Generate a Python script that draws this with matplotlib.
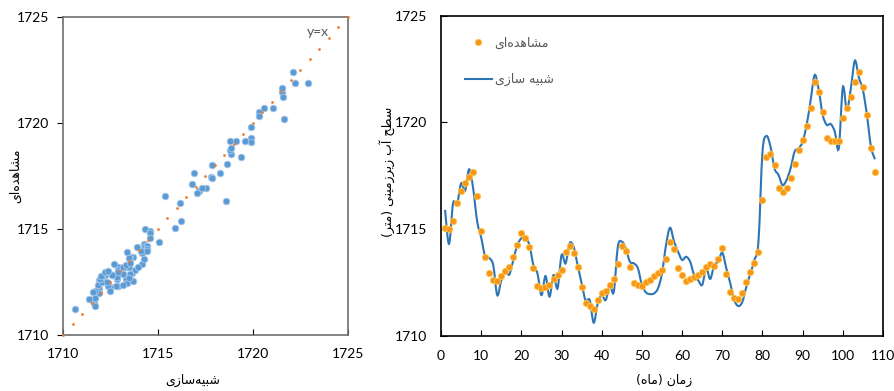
import matplotlib
matplotlib.use('Agg')
import matplotlib.pyplot as plt
from matplotlib.path import Path
from matplotlib.patches import PathPatch
from matplotlib.lines import Line2D

# monthly values (months 1..108)
months = list(range(1, 109))
observed = [1715.03, 1714.98, 1715.38, 1716.23, 1716.78, 1717.14, 1717.44, 1717.66, 1716.55, 1714.91,
            1713.69, 1712.92, 1712.63, 1712.58, 1712.81, 1713.03, 1713.22, 1713.67, 1714.27, 1714.80,
            1714.56, 1714.14, 1713.19, 1712.33, 1712.22, 1712.30, 1712.38, 1712.64, 1712.84, 1713.06,
            1713.91, 1714.20, 1713.86, 1713.20, 1712.27, 1711.53, 1711.39, 1711.25, 1711.66, 1711.98,
            1712.09, 1712.38, 1712.67, 1713.36, 1714.20, 1713.98, 1713.20, 1712.45, 1712.38, 1712.31,
            1712.50, 1712.63, 1712.78, 1712.95, 1713.08, 1713.58, 1714.38, 1714.08, 1713.19, 1712.86,
            1712.56, 1712.67, 1712.73, 1712.83, 1713.00, 1713.20, 1713.34, 1713.28, 1713.61, 1714.13,
            1712.88, 1712.06, 1711.75, 1711.72, 1712.02, 1712.50, 1712.97, 1713.42, 1713.94, 1716.34,
            1718.39, 1718.52, 1718.00, 1716.94, 1716.72, 1716.94, 1717.39, 1718.05, 1718.70, 1719.17,
            1719.83, 1720.69, 1721.89, 1721.44, 1720.50, 1719.28, 1719.11, 1719.13, 1719.13, 1720.20,
            1720.69, 1721.20, 1721.88, 1722.38, 1721.66, 1720.33, 1718.81, 1717.66]
simulated = [1715.90, 1714.30, 1716.20, 1716.15, 1717.14, 1716.80, 1717.80, 1716.90, 1715.35, 1714.60,
             1713.70, 1713.64, 1713.30, 1711.90, 1712.60, 1713.00, 1712.87, 1713.55, 1714.25, 1714.56,
             1714.56, 1714.25, 1713.31, 1712.92, 1711.90, 1712.80, 1711.83, 1712.84, 1712.22, 1713.78,
             1713.39, 1714.33, 1714.17, 1713.31, 1712.45, 1711.64, 1711.67, 1710.61, 1711.52, 1711.90,
             1711.67, 1712.38, 1712.06, 1714.17, 1714.41, 1714.09, 1713.47, 1713.39, 1713.16, 1712.38,
             1712.03, 1711.95, 1711.98, 1712.22, 1712.92, 1714.25, 1715.06, 1714.41, 1713.94, 1713.55,
             1713.70, 1713.47, 1712.84, 1712.60, 1712.38, 1713.16, 1712.66, 1713.31, 1713.47, 1713.89,
             1713.16, 1712.45, 1711.67, 1711.39, 1711.59, 1712.30, 1712.92, 1713.55, 1714.40, 1718.60,
             1719.36, 1718.86, 1717.84, 1717.53, 1717.06, 1717.30, 1717.84, 1718.63, 1718.78, 1719.09,
             1719.88, 1721.05, 1722.22, 1721.52, 1720.34, 1719.88, 1719.92, 1719.56, 1718.78, 1721.64,
             1720.58, 1721.59, 1722.89, 1722.10, 1721.52, 1720.34, 1718.86, 1718.27]
identity = [1710, 1710.5, 1711, 1711.5, 1712, 1712.5, 1713, 1713.5, 1714, 1714.5, 1715, 1715.5,
            1716, 1716.5, 1717, 1717.5, 1718, 1718.5, 1719, 1719.5, 1720, 1720.5, 1721, 1721.5,
            1722, 1722.5, 1723, 1723.5, 1724, 1724.5, 1725]

lbl_obs = 'مشاهده\u200cای'
lbl_sim_x = 'شبیه\u200cسازی'
lbl_sim_leg = 'شبیه سازی'
lbl_level = 'سطح آب زیرزمینی (متر)'
lbl_time = 'زمان (ماه)'

# contextual forms: isolated, final, initial, medial
FORMS = {
    'ا': ('\uFE8D', '\uFE8E', None, None),
    'آ': ('\uFE81', '\uFE82', None, None),
    'ب': ('\uFE8F', '\uFE90', '\uFE91', '\uFE92'),
    'ت': ('\uFE95', '\uFE96', '\uFE97', '\uFE98'),
    'ح': ('\uFEA1', '\uFEA2', '\uFEA3', '\uFEA4'),
    'د': ('\uFEA9', '\uFEAA', None, None),
    'ر': ('\uFEAD', '\uFEAE', None, None),
    'ز': ('\uFEAF', '\uFEB0', None, None),
    'س': ('\uFEB1', '\uFEB2', '\uFEB3', '\uFEB4'),
    'ش': ('\uFEB5', '\uFEB6', '\uFEB7', '\uFEB8'),
    'ط': ('\uFEC1', '\uFEC2', '\uFEC3', '\uFEC4'),
    'م': ('\uFEE1', '\uFEE2', '\uFEE3', '\uFEE4'),
    'ن': ('\uFEE5', '\uFEE6', '\uFEE7', '\uFEE8'),
    'ه': ('\uFEE9', '\uFEEA', '\uFEEB', '\uFEEC'),
    'ی': ('\uFEEF', '\uFEF0', '\uFEF3', '\uFEF4'),
}


def fa(s):
    out = []
    for i, c in enumerate(s):
        if c not in FORMS:
            if c != '\u200c':
                out.append(c)
            continue
        prev = s[i - 1] if i > 0 else ''
        nxt = s[i + 1] if i + 1 < len(s) else ''
        jp = prev in FORMS and FORMS[prev][2] is not None
        jn = FORMS[c][2] is not None and nxt in FORMS
        iso, fin, ini, med = FORMS[c]
        if jp and jn:
            out.append(med)
        elif jp:
            out.append(fin)
        elif jn:
            out.append(ini)
        else:
            out.append(iso)
    return ''.join(out)[::-1].translate(str.maketrans('()', ')('))


def smooth_path(x, y):
    # excel style smoothed line as bezier segments
    verts = [(x[0], y[0])]
    codes = [Path.MOVETO]
    n = len(x)
    for i in range(n - 1):
        x0, y0 = (x[i - 1], y[i - 1]) if i > 0 else (x[i], y[i])
        x3, y3 = (x[i + 2], y[i + 2]) if i + 2 < n else (x[i + 1], y[i + 1])
        c1 = (x[i] + (x[i + 1] - x0) / 6, y[i] + (y[i + 1] - y0) / 6)
        c2 = (x[i + 1] - (x3 - x[i]) / 6, y[i + 1] - (y3 - y[i]) / 6)
        verts += [c1, c2, (x[i + 1], y[i + 1])]
        codes += [Path.CURVE4] * 3
    return Path(verts, codes)


plt.rcParams['font.family'] = ['Lato', 'DejaVu Sans']
AR = ['DejaVu Sans']
blue = '#5B9BD5'
orange = '#ED7D31'
grey = '#595959'

fig = plt.figure(figsize=(8.94, 3.91), dpi=100)

# scatter plot
ax1 = fig.add_axes([0.0705, 0.143, 0.3185, 0.814])
ax1.plot(simulated, observed, 'o', ms=4.8, mfc=blue, mec='#A9C8E8', mew=0.6, zorder=2)
ax1.plot(identity, identity, 'o', ms=2.0, color=orange, mew=0, zorder=3, clip_on=False)
ax1.text(1723.4, 1724.3, 'y=x', color=grey, fontsize=10, ha='center', va='center')
ax1.set_xlim(1710, 1725)
ax1.set_ylim(1710, 1725)
ax1.set_xticks([1710, 1715, 1720, 1725])
ax1.set_yticks([1710, 1715, 1720, 1725])
ax1.tick_params(axis='x', direction='in', length=4, pad=9, labelsize=10)
ax1.tick_params(axis='y', direction='out', length=4, pad=6, labelsize=10)
for s in ax1.spines.values():
    s.set_color('#6e6e6e')
    s.set_linewidth(1.2)

fig.text(0.216, 1 - 380 / 391, fa(lbl_sim_x), family=AR, fontsize=9, ha='center', va='center')
fig.text(0.018, 1 - 176 / 391, fa(lbl_obs), family=AR, fontsize=9, ha='center', va='center', rotation=90)

# time series
ax2 = fig.add_axes([0.4933, 0.1414, 0.4944, 0.8186])
ax2.add_patch(PathPatch(smooth_path(months, simulated), fill=False, ec='#2E75B6', lw=1.5, zorder=2))
ax2.plot(months, observed, 'o', ms=4.6, mfc='#F7961E', mec='#FFC845', mew=0.6, zorder=3)
ax2.set_xlim(0, 110)
ax2.set_ylim(1710, 1725)
ax2.set_xticks(list(range(0, 111, 10)))
ax2.set_yticks([1710, 1715, 1720, 1725])
ax2.tick_params(axis='x', direction='in', length=4, pad=10, labelsize=10)
ax2.tick_params(axis='y', direction='in', length=4, pad=10, labelsize=10)
for s in ax2.spines.values():
    s.set_color('black')
    s.set_linewidth(1.2)

handles = [Line2D([], [], ls='none', marker='o', ms=4.6, mfc='#F7961E', mec='#FFC845', mew=0.6),
           Line2D([], [], color='#2E75B6', lw=1.5)]
ax2.legend(handles, [fa(lbl_obs), fa(lbl_sim_leg)], loc='upper left', bbox_to_anchor=(0.028, 0.97),
           frameon=False, labelspacing=1.9, handlelength=2.2, handletextpad=0.2,
           prop={'family': AR, 'size': 9}, labelcolor=grey)

fig.text(0.743, 1 - 380 / 391, fa(lbl_time), family=AR, fontsize=9, ha='center', va='center')
fig.text(0.433, 1 - 172 / 391, fa(lbl_level), family=AR, fontsize=9, ha='center', va='center', rotation=90)

fig.savefig('out.png', dpi=100)
